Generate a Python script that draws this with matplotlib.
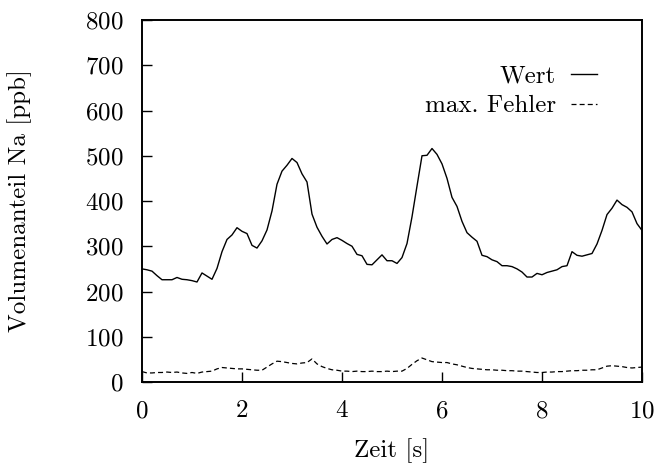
import numpy as np
import matplotlib
matplotlib.use('Agg')
import matplotlib.pyplot as plt

plt.rcParams['font.family'] = ['cmr10', 'DejaVu Serif']
plt.rcParams['axes.formatter.use_mathtext'] = True
plt.rcParams['font.size'] = 18

# Zeitachse, 0.1 s Schritte
zeit = np.round(np.arange(0, 101) * 0.1, 1)

wert = [
    250, 248, 245, 235, 226, 226, 226, 231, 227, 226,
    224, 221, 241, 234, 227, 251, 288, 315, 325, 341,
    333, 328, 302, 296, 312, 336, 378, 437, 466, 479,
    494, 485, 460, 442, 371, 342, 322, 305, 315, 319,
    313, 306, 300, 282, 279, 260, 259, 270, 281, 268,
    268, 262, 275, 306, 365, 433, 500, 501, 516, 503,
    482, 450, 408, 388, 355, 330, 320, 311, 280, 277,
    270, 266, 257, 257, 255, 250, 243, 232, 232, 240,
    237, 242, 245, 248, 255, 257, 288, 280, 278, 281,
    284, 305, 335, 370, 384, 402, 392, 386, 376, 350,
    335,
]

fehler = [
    23, 20, 20, 21, 21, 22, 21, 22, 20, 19,
    21, 19, 22, 23, 24, 29, 32, 31, 30, 29,
    29, 28, 27, 26, 26, 33, 40, 46, 45, 43,
    41, 40, 42, 43, 51, 40, 34, 30, 27, 26,
    24, 24, 23, 24, 23, 23, 24, 23, 23, 24,
    23, 24, 24, 30, 39, 47, 53, 49, 45, 44,
    43, 43, 40, 38, 35, 32, 30, 29, 28, 27,
    27, 26, 26, 25, 25, 24, 24, 23, 22, 21,
    21, 22, 22, 23, 23, 24, 25, 25, 26, 26,
    27, 27, 31, 35, 36, 35, 34, 32, 31, 32,
    33,
]

legend = ['Wert', 'max. Fehler']

fig = plt.figure(figsize=(6.6, 4.68), dpi=100)
ax = fig.add_axes([142 / 660, 86 / 468, 500 / 660, 362 / 468])

ax.plot(zeit, wert, color='black', linewidth=1.0)
ax.plot(zeit, fehler, color='black', linewidth=0.9, dashes=(4, 2.5))

ax.set_xlim(0, 10)
ax.set_ylim(0, 800)
ax.set_xticks(np.arange(0, 11, 2))
ax.set_yticks(np.arange(0, 801, 100))
ax.tick_params(direction='in', length=7, width=1.0, pad=13,
               top=False, right=False, labelsize=18)
for s in ax.spines.values():
    s.set_linewidth(1.4)

ax.set_xlabel('Zeit [s]', fontsize=18, va='center')
ax.set_ylabel('Volumenanteil Na [ppb]', fontsize=18, va='center')
ax.xaxis.set_label_coords(0.5, (382 - 451) / 362)
ax.yaxis.set_label_coords((20 - 142) / 500, 0.5)

ax.legend(legend, loc='upper right', bbox_to_anchor=(0.93, 0.904),
          frameon=False, markerfirst=False, handlelength=1.05,
          handletextpad=0.6, labelspacing=0.3, fontsize=18,
          borderaxespad=0)

plt.savefig('out.png', dpi=100)
